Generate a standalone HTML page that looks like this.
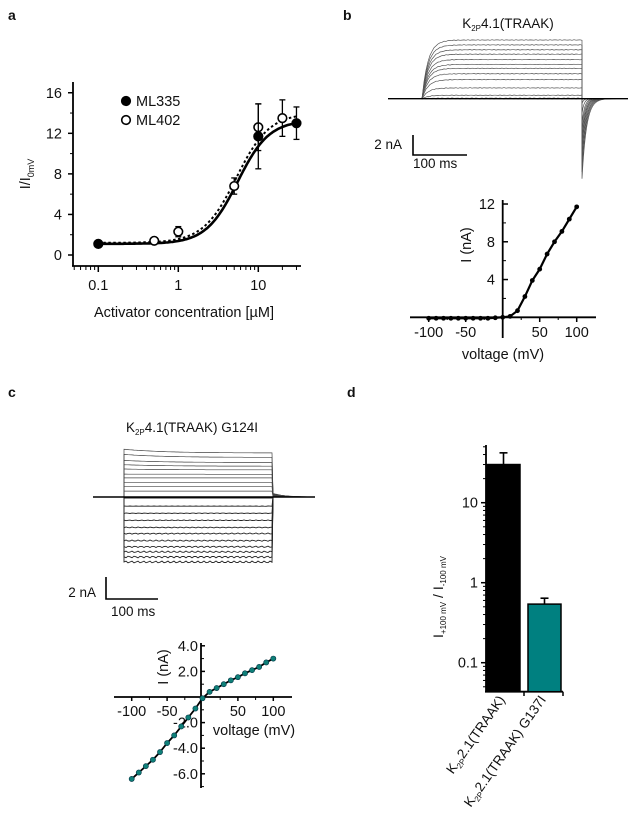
<!DOCTYPE html>
<html><head><meta charset="utf-8"><style>
body{margin:0;background:#fff}
svg{display:block;font-family:"Liberation Sans",Arial,sans-serif}
text{fill:#111}
</style></head><body>
<svg id="fig" width="638" height="818" viewBox="0 0 638 818">
<g id="ga"></g>
<g id="gb"></g>
<g id="gc"></g>
<g id="gd"></g>
</svg>
<script>
// ---- Panel a data ----
const aConcML335 = [0.1, 10, 30];
const aValML335 = [1.1, 11.7, 13.0];
const aErrML335 = [0.1, 3.2, 1.6];
const aConcML402 = [0.5, 1, 5, 10, 20];
const aValML402 = [1.4, 2.3, 6.8, 12.6, 13.5];
const aErrML402 = [0.1, 0.5, 0.8, 2.3, 1.8];
const aFitML335 = [1.1, 13.3, 5.5, 2.2];   // bottom, top, EC50, hill
const aFitML402 = [1.2, 14.0, 5.3, 2.1];
const aYTicks = [0, 4, 8, 12, 16];
const aXTicks = [0.1, 1, 10];
// ---- Panel b data ----
const bTraceAmps = [0, 0.1, 0.7, 2.2, 3.9, 5.1, 6.2, 7.0, 8.0, 9.1, 10.0, 11.0, 12.0];
const bIVVolt = [-100,-90,-80,-70,-60,-50,-40,-30,-20,-10,0,10,20,30,40,50,60,70,80,90,100];
const bIVCurr = [-0.1,-0.1,-0.1,-0.1,-0.1,-0.1,-0.1,-0.1,-0.1,-0.05,0,0.1,0.7,2.2,3.9,5.1,6.7,8.0,9.1,10.4,11.7];
const bYTicks = [4, 8, 12];
const bXTicks = [-100, -50, 50, 100];
// ---- Panel c data ----
const cTraceAmps = [3.0,2.7,2.35,2.1,1.85,1.55,1.3,1.0,0.7,0.4,-0.1,-0.9,-1.6,-2.3,-3.0,-3.6,-4.3,-4.9,-5.4,-5.9,-6.4];
const cIVVolt = [-100,-90,-80,-70,-60,-50,-40,-30,-20,-10,0,10,20,30,40,50,60,70,80,90,100];
const cIVCurr = [-6.4,-5.9,-5.4,-4.9,-4.3,-3.6,-3.0,-2.3,-1.6,-0.9,-0.1,0.4,0.7,1.0,1.3,1.55,1.85,2.1,2.35,2.7,3.0];
const cYTicks = [4, 2, -2, -4, -6];
const cXTicks = [-100, -50, 50, 100];
// ---- Panel d data ----
const dCats = ["K2P2.1(TRAAK)", "K2P2.1(TRAAK) G137I"];
const dVals = [30, 0.54];
const dErrs = [12, 0.10];
const dColors = ["#000000", "#008080"];
const dYTicks = [0.1, 1, 10];

const NS = "http://www.w3.org/2000/svg";
function mk(parent, tag, attrs, txt){const e=document.createElementNS(NS,tag);for(const k in attrs)e.setAttribute(k,attrs[k]);if(txt!==undefined)e.textContent=txt;parent.appendChild(e);return e;}
function line(p,x1,y1,x2,y2,w,c){return mk(p,'line',{x1,y1,x2,y2,stroke:c||'#000','stroke-width':w||1.5});}
function txt(p,x,y,s,size,anchor,extra){const e=mk(p,'text',Object.assign({x,y,'font-size':size||13,'text-anchor':anchor||'middle'},extra||{}),s);return e;}
const fig=document.getElementById('fig');

[['a',8,20],['b',343,20],['c',8,397],['d',347,397]].forEach(l=>{
 const e=txt(fig,l[1],l[2],l[0],14,'start',{'font-weight':'bold'});
 
 
});

// ================= Panel a =================
(function(){
 const g=document.getElementById('ga');
 const X=v=>178.3+80*Math.log10(v), Y=v=>255-10.14*v;
 const ax=mk(g,'g',{});
 
 
 line(ax,73,82,73,266.5,1.8); line(ax,72,266,301,266,1.8);
 aYTicks.forEach(t=>{line(ax,68,Y(t),73,Y(t),1.5);txt(ax,62,Y(t)+5,String(t),14.5,'end');});
 for(let t=2;t<16;t+=4){line(ax,70,Y(t),73,Y(t),1);}
 aXTicks.forEach(t=>{line(ax,X(t),266,X(t),272,1.5);txt(ax,X(t),290,String(t),14.5);});
 for(let d=-2;d<=1;d++)for(let m=2;m<=9;m++){const v=m*Math.pow(10,d);const x=X(v);if(x>74&&x<301)line(ax,x,266,x,270,1);}
 const yt=txt(ax,0,0,'',14.5,'middle',{transform:'translate(30,174) rotate(-90)'});
 yt.innerHTML='I/I<tspan font-size="9" dy="4">0mV</tspan>';
  
 const xt=txt(ax,184,317,'Activator concentration [\u00b5M]',14.5);
  
 function hill(p,x){return p[0]+(p[1]-p[0])/(1+Math.pow(p[2]/x,p[3]));}
 function curve(p,dash,name){let d='';for(let i=0;i<=120;i++){const lv=-1+i*(Math.log10(30)+1)/120;const x=Math.pow(10,lv);d+=(i?'L':'M')+X(x).toFixed(1)+','+Y(hill(p,x)).toFixed(1);}
  const e=mk(g,'path',{d,fill:'none',stroke:'#000','stroke-width':dash?2:2.6,'stroke-dasharray':dash?'2.5,2.5':'none'});
   }
 curve(aFitML402,true,'fit-ml402'); curve(aFitML335,false,'fit-ml335');
 function pts(cs,vs,es,fill,name){cs.forEach((c,i)=>{const x=X(c);
  line(g,x,Y(vs[i]-es[i]),x,Y(vs[i]+es[i]),1.3);line(g,x-3,Y(vs[i]+es[i]),x+3,Y(vs[i]+es[i]),1.3);line(g,x-3,Y(vs[i]-es[i]),x+3,Y(vs[i]-es[i]),1.3);
  const e=mk(g,'circle',{cx:x,cy:Y(vs[i]),r:4.3,fill,stroke:'#000','stroke-width':1.6});
   });}
 pts(aConcML402,aValML402,aErrML402,'#fff','point-ml402');
 pts(aConcML335,aValML335,aErrML335,'#000','point-ml335');
 const l1=mk(g,'g',{});  
 mk(l1,'circle',{cx:126,cy:101,r:4.3,fill:'#000',stroke:'#000','stroke-width':1.6}); txt(l1,136,106,'ML335',14.5,'start');
 const l2=mk(g,'g',{});  
 mk(l2,'circle',{cx:126,cy:120,r:4.3,fill:'#fff',stroke:'#000','stroke-width':1.6}); txt(l2,136,125,'ML402',14.5,'start');
})();

// ================= Panel b =================
(function(){
 const g=document.getElementById('gb');
 const t=txt(g,508,28,'',13.5); t.innerHTML='K<tspan font-size="8" dy="3">2P</tspan><tspan dy="-3">4.1(TRAAK)</tspan>';
  
 const tr=mk(g,'g',{});  
 const base=98.7, sc=58.7/12, x0=390,xs=422,xe=582,x1=628;
 bTraceAmps.forEach((a,i)=>{let d=`M${x0},${base}L${xs},${base}`;
  for(let x=xs;x<=xe;x+=2){const f=1-Math.exp(-(x-xs)/6);d+=`L${x},${(base-a*sc*f+Math.sin(x*1.3+i)*0.3).toFixed(1)}`;}
  const peak=a/12*80;
  for(let x=xe;x<=x1;x+=1){const f=Math.exp(-(x-xe)/(1.5+a*0.25));d+=`L${x},${(base+peak*f).toFixed(1)}`;}
  const e=mk(tr,'path',{d,fill:'none',stroke:'#555','stroke-width':0.7});
   });
 line(g,388,base,628,base,1.3);
 const sb=mk(g,'g',{});  
 mk(sb,'path',{d:'M413,135L413,155L467,155',fill:'none',stroke:'#000','stroke-width':1.6});
 txt(sb,402,149,'2 nA',13.5,'end'); txt(sb,413,168,'100 ms',13.5,'start');
 const X=v=>502.7+0.74*v, Y=v=>317.3-9.44*v;
 const ax=mk(g,'g',{});  
 line(ax,410,317.3,596,317.3,1.8); line(ax,502.7,200,502.7,338,1.8);
 bYTicks.forEach(v=>{line(ax,502.7,Y(v),508,Y(v),1.5);txt(ax,495,Y(v)+5,String(v),14.5,'end');});
 [2,6,10].forEach(v=>line(ax,502.7,Y(v),506,Y(v),1));
 bXTicks.forEach(v=>{line(ax,X(v),317.3,X(v),322,1.5);txt(ax,X(v),337,String(v),14.5);});
 [-75,-25,25,75].forEach(v=>line(ax,X(v),317.3,X(v),320,1));
 const xt=txt(ax,503,359,'voltage (mV)',14.5);  
 const yt=txt(ax,0,0,'I (nA)',14.5,'middle',{transform:'translate(471,245) rotate(-90)'});  
 let d='';bIVVolt.forEach((v,i)=>d+=(i?'L':'M')+X(v)+','+Y(bIVCurr[i]));
 const pl=mk(g,'path',{d,fill:'none',stroke:'#000','stroke-width':2.2});  
 bIVVolt.forEach((v,i)=>{const e=mk(g,'circle',{cx:X(v),cy:Y(bIVCurr[i]),r:2.4,fill:'#000'});});
})();

// ================= Panel c =================
(function(){
 const g=document.getElementById('gc');
 const t=txt(g,192,432,'',13.5); t.innerHTML='K<tspan font-size="8" dy="3">2P</tspan><tspan dy="-3">4.1(TRAAK) G124I</tspan>';
  
 const tr=mk(g,'g',{});  
 const base=497, x0=93,xs=124,xe=273,x1=315;
 const scP=44/3.0, scN=65/6.4;
 cTraceAmps.forEach((a,i)=>{const s=a>0?scP:scN;let d=`M${x0},${base}L${xs},${base}`;
  for(let x=xs;x<=xe;x+=2){const over=a>1.5?(a-1.5)*2.5*Math.exp(-(x-xs)/40):0;const noise=a<0?Math.sin(x*2.1+i*3)*Math.abs(a)*0.15:0;
   d+=`L${x},${(base-a*s-over+noise).toFixed(1)}`;}
  for(let x=xe;x<=x1;x+=2){const f=Math.exp(-(x-xe)/12);d+=`L${x},${(base-(a>0?a*1.2:0)*f).toFixed(1)}`;}
  const e=mk(tr,'path',{d,fill:'none',stroke:a<0?'#222':'#444','stroke-width':a<0?0.9:0.7});
   });
 line(g,93,base,315,base,1.6);
 const sb=mk(g,'g',{});  
 mk(sb,'path',{d:'M106,577L106,599L158,599',fill:'none',stroke:'#000','stroke-width':1.6});
 txt(sb,96,597,'2 nA',13.5,'end'); txt(sb,111,616,'100 ms',13.5,'start');
 const X=v=>202.5+0.708*v, Y=v=>697-12.8*v;
 const ax=mk(g,'g',{});  
 line(ax,114,697,292,697,1.8); line(ax,201,643,201,788,1.8);
 cYTicks.forEach(v=>{line(ax,201,Y(v),205,Y(v),1.5);txt(ax,198,Y(v)+5,v.toFixed(1),14.5,'end');});
 [3,1,-1,-3,-5,-7].forEach(v=>line(ax,201,Y(v),204,Y(v),1));
 cXTicks.forEach(v=>{line(ax,X(v),697,X(v),701,1.5);txt(ax,X(v),716,String(v),14.5);});
 [-75,-25,25,75].forEach(v=>line(ax,X(v),697,X(v),700,1));
 const xt=txt(ax,254,735,'voltage (mV)',14.5);  
 const yt=txt(ax,0,0,'I (nA)',14.5,'middle',{transform:'translate(168,667) rotate(-90)'});  
 let d='';cIVVolt.forEach((v,i)=>d+=(i?'L':'M')+X(v)+','+Y(cIVCurr[i]));
 const pl=mk(g,'path',{d,fill:'none',stroke:'#000','stroke-width':1.8});  
 cIVVolt.forEach((v,i)=>{const e=mk(g,'circle',{cx:X(v),cy:Y(cIVCurr[i]),r:2.6,fill:'#0f8078',stroke:'#034','stroke-width':0.6});});
})();

// ================= Panel d =================
(function(){
 const g=document.getElementById('gd');
 const Y=v=>582.7-80*Math.log10(v), axB=691.7;
 const ax=mk(g,'g',{});  
 dCats.forEach((c,i)=>{const x0=i?528:487,w=33;
  const b=mk(g,'rect',{x:x0,y:Y(dVals[i]),width:w,height:axB-Y(dVals[i]),fill:dColors[i],stroke:'#000','stroke-width':1.5});
   
  const cx=x0+w/2,ye=Y(dVals[i]+dErrs[i]);
  line(g,cx,Y(dVals[i]),cx,ye,1.6); line(g,cx-4,ye,cx+4,ye,1.6);
  const tx=x0+w/2+2;
  const lt=txt(g,0,0,'',13.5,'end',{transform:`translate(${tx},${axB+8}) rotate(-55)`});
  lt.innerHTML='K<tspan font-size="8" dy="3">2P</tspan><tspan dy="-3">'+c.slice(3)+'</tspan>';
   
 });
 line(ax,486,445,486,692.5,1.8); line(ax,485,691.7,563,691.7,1.8);
 line(ax,524,691.7,524,696,1.5); line(ax,563,691.7,563,696,1.5);
 dYTicks.forEach(v=>{line(ax,481,Y(v),486,Y(v),1.5);txt(ax,478,Y(v)+5,String(v),14.5,'end');});
 for(let dd=-2;dd<=1;dd++)for(let m=2;m<=9;m++){const y=Y(m*Math.pow(10,dd));if(y>445&&y<691)line(ax,483,y,486,y,1);}
 const yt=txt(ax,0,0,'',14,'middle',{transform:'translate(443,597) rotate(-90)'});
 yt.innerHTML='I<tspan font-size="8" dy="3">+100 mV</tspan><tspan dy="-3"> / I</tspan><tspan font-size="8" dy="3">-100 mV</tspan>';
  
})();
</script>
</body></html>
